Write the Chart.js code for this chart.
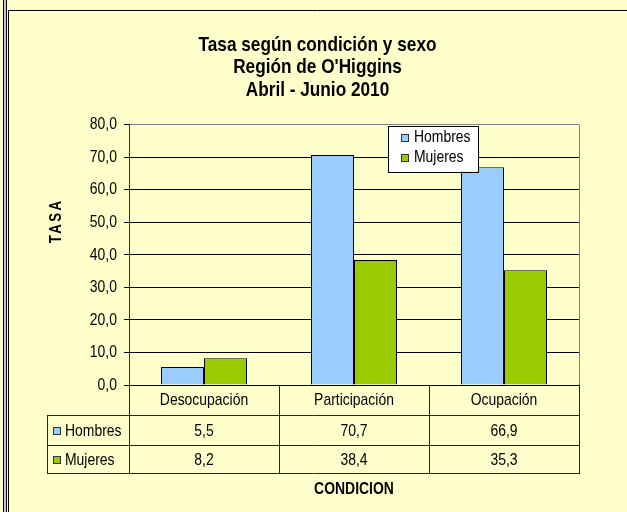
<!DOCTYPE html>
<html><head><meta charset="utf-8">
<script src="https://cdn.jsdelivr.net/npm/chart.js@4"></script>
<style>
html,body{margin:0;padding:0;background:#FFFFCC;overflow:hidden}
#wrap{position:absolute;left:0;top:0;width:627px;height:512px}
</style>
</head><body><div id="wrap"><canvas id="c"></canvas></div>
<script>
// ---- data ----
const categories = ['Desocupación', 'Participación', 'Ocupación'];
const seriesNames = ['Hombres', 'Mujeres'];
const hombres = [5.5, 70.7, 66.9];
const mujeres = [8.2, 38.4, 35.3];
const yTickLabels = ['0,0', '10,0', '20,0', '30,0', '40,0', '50,0', '60,0', '70,0', '80,0'];
const titleLines = ['Tasa según condición y sexo', "Región de O'Higgins", 'Abril - Junio 2010'];
const yAxisTitle = 'TASA';
const xAxisTitle = 'CONDICION';

// ---- styling ----
const colors = ['#99CCFF', '#99CC00'];
const BG = '#FFFFCC';

// Narrow-font look: use Liberation Sans drawn horizontally condensed
const probe = document.createElement('canvas').getContext('2d');
probe.font = '40px "Liberation Sans Narrow", monospace';
const wN = probe.measureText('Hombres Mujeres').width;
probe.font = '40px monospace';
const wM = probe.measureText('Hombres Mujeres').width;
const hasNarrow = Math.abs(wN - wM) > 0.5;
const FAM = hasNarrow ? '"Liberation Sans Narrow", "Arial Narrow", sans-serif' : '"Liberation Sans", Arial, sans-serif';
const SX = hasNarrow ? 1 : 0.82;
const BODY = 17;
const TITLE = 21;

const canvas = document.getElementById('c');
const c2d = canvas.getContext('2d');
if (SX !== 1) {
  const origFill = c2d.fillText.bind(c2d);
  const origMeasure = c2d.measureText.bind(c2d);
  c2d.fillText = function (t, x, y, mw) {
    this.save();
    this.translate(x, y);
    this.scale(SX, 1);
    if (mw !== undefined) origFill(t, 0, 0, mw / SX); else origFill(t, 0, 0);
    this.restore();
  };
  c2d.measureText = function (t) {
    const m = origMeasure(t);
    return {
      width: m.width * SX,
      actualBoundingBoxLeft: m.actualBoundingBoxLeft * SX,
      actualBoundingBoxRight: m.actualBoundingBoxRight * SX,
      actualBoundingBoxAscent: m.actualBoundingBoxAscent,
      actualBoundingBoxDescent: m.actualBoundingBoxDescent,
      fontBoundingBoxAscent: m.fontBoundingBoxAscent,
      fontBoundingBoxDescent: m.fontBoundingBoxDescent
    };
  };
}

function fmt(v) { return v.toFixed(1).replace('.', ','); }

const framePlugin = {
  id: 'frame',
  beforeDraw(chart) {
    const ctx = chart.ctx;
    ctx.save();
    ctx.fillStyle = BG;
    ctx.fillRect(0, 0, chart.width, chart.height);
    ctx.fillStyle = '#c8c8c8';
    ctx.fillRect(4, 0, 2, chart.height);
    ctx.strokeStyle = '#000';
    ctx.lineWidth = 1;
    ctx.beginPath();
    ctx.moveTo(3.5, 0); ctx.lineTo(3.5, chart.height);
    ctx.moveTo(6.5, 0); ctx.lineTo(6.5, chart.height);
    ctx.moveTo(8.5, 10); ctx.lineTo(8.5, chart.height);
    ctx.moveTo(8, 10.5); ctx.lineTo(chart.width, 10.5);
    ctx.stroke();
    ctx.restore();
  },
  afterDraw(chart) {
    const ctx = chart.ctx;
    const ca = chart.chartArea;
    const xs = chart.scales.x;
    const n = categories.length;
    const bounds = [ca.left];
    for (let i = 0; i < n - 1; i++) bounds.push((xs.getPixelForValue(i) + xs.getPixelForValue(i + 1)) / 2);
    bounds.push(ca.right);
    const headBot = ca.bottom + 30, r1Bot = headBot + 30, r2Bot = r1Bot + 28;
    const tLeft = 47;
    const al = v => Math.round(v) + 0.5;
    ctx.save();
    // plot right border (gray)
    ctx.strokeStyle = '#808080';
    ctx.lineWidth = 1;
    ctx.beginPath();
    ctx.moveTo(al(ca.right), ca.top); ctx.lineTo(al(ca.right), ca.bottom);
    ctx.stroke();
    // table lines
    ctx.strokeStyle = '#222';
    ctx.beginPath();
    bounds.forEach(b => { ctx.moveTo(al(b), ca.bottom); ctx.lineTo(al(b), r2Bot); });
    ctx.moveTo(al(tLeft), headBot); ctx.lineTo(al(tLeft), r2Bot);
    [headBot, r1Bot, r2Bot].forEach(y => { ctx.moveTo(tLeft, al(y)); ctx.lineTo(al(ca.right) + 0.5, al(y)); });
    ctx.stroke();
    // table rows
    const rows = [[seriesNames[0], hombres, (headBot + r1Bot) / 2], [seriesNames[1], mujeres, (r1Bot + r2Bot) / 2]];
    ctx.font = BODY + 'px ' + FAM;
    ctx.textBaseline = 'middle';
    rows.forEach((r, k) => {
      const yc = r[2] + 1;
      ctx.fillStyle = colors[k];
      ctx.fillRect(tLeft + 6, Math.round(yc - 4), 8, 8);
      ctx.strokeStyle = '#333';
      ctx.strokeRect(tLeft + 6.5, Math.round(yc - 4) + 0.5, 7, 7);
      ctx.fillStyle = '#000';
      ctx.textAlign = 'left';
      ctx.fillText(r[0], tLeft + 18, yc);
      ctx.textAlign = 'center';
      r[1].forEach((v, i) => ctx.fillText(fmt(v), xs.getPixelForValue(i), yc));
    });
    // x axis title
    ctx.font = 'bold ' + BODY + 'px ' + FAM;
    ctx.textAlign = 'center';
    ctx.fillText(xAxisTitle, (ca.left + ca.right) / 2, r2Bot + 16);
    // y axis title
    ctx.save();
    ctx.translate(57, (ca.top + ca.bottom) / 2 - 33);
    ctx.rotate(-Math.PI / 2);
    ctx.font = 'bold 16px ' + FAM;
    ctx.letterSpacing = '3px';
    ctx.textAlign = 'center';
    ctx.fillText(yAxisTitle, 1, 0);
    ctx.restore();
    // legend
    const lx = ca.left + 259, ly = ca.top + 1, lw = 90, lh = 46;
    ctx.fillStyle = '#fff';
    ctx.fillRect(lx, ly, lw, lh);
    ctx.strokeStyle = '#000';
    ctx.strokeRect(al(lx), al(ly), lw, lh);
    ctx.font = BODY + 'px ' + FAM;
    ctx.textAlign = 'left';
    seriesNames.forEach((s, k) => {
      const yc = ly + 12 + k * 20;
      ctx.fillStyle = colors[k];
      ctx.fillRect(lx + 13, Math.round(yc - 4), 8, 8);
      ctx.strokeStyle = '#333';
      ctx.strokeRect(lx + 13.5, Math.round(yc - 4) + 0.5, 7, 7);
      ctx.fillStyle = '#000';
      ctx.fillText(s, lx + 26, yc);
    });
    ctx.restore();
  }
};

Chart.defaults.font.family = FAM;
Chart.defaults.font.size = BODY;
Chart.defaults.color = '#000';

new Chart(canvas, {
  type: 'bar',
  data: {
    labels: categories,
    datasets: [
      { label: seriesNames[0], data: hombres, backgroundColor: colors[0], borderColor: '#000', borderWidth: 1 },
      { label: seriesNames[1], data: mujeres, backgroundColor: colors[1], borderColor: '#000', borderWidth: 1 }
    ]
  },
  options: {
    responsive: true,
    maintainAspectRatio: false,
    animation: false,
    devicePixelRatio: 1,
    layout: { padding: { left: 56, right: 48, top: 0, bottom: 97 } },
    datasets: { bar: { categoryPercentage: 0.573, barPercentage: 1 } },
    plugins: {
      legend: { display: false },
      tooltip: { enabled: false },
      title: {
        display: true,
        text: titleLines,
        color: '#000',
        font: { family: FAM, size: TITLE, weight: 'bold', lineHeight: 22.5 / TITLE },
        padding: { top: 33.75, bottom: 23.45 }
      }
    },
    scales: {
      x: {
        afterFit(s) { s.height = 30; },
        border: { color: '#000', width: 1 },
        grid: { display: true, drawOnChartArea: false, drawTicks: false },
        ticks: { padding: 5, color: '#000', font: { family: FAM, size: BODY } }
      },
      y: {
        min: 0, max: 80,
        afterFit(s) { s.width = 73; },
        border: { color: '#333', width: 1 },
        grid: {
          color: ctx => (ctx.tick && ctx.tick.value === 80) ? '#808080' : '#000',
          tickColor: '#000', tickLength: 5
        },
        ticks: {
          stepSize: 10, padding: 7, color: '#000',
          font: { family: FAM, size: BODY },
          callback: (v, i) => yTickLabels[i]
        }
      }
    }
  },
  plugins: [framePlugin]
});
</script>
</body></html>
